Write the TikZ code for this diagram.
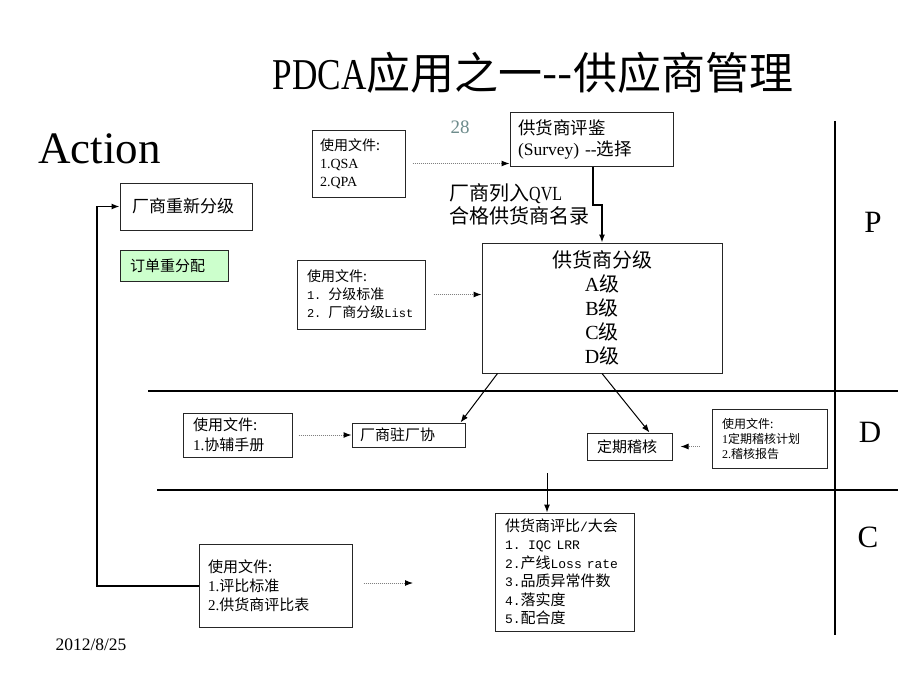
\documentclass[tikz,border=0pt]{standalone}
\usepackage{fontspec}
\setmainfont{Liberation Serif}
\setmonofont{Liberation Mono}
\newfontfamily\cjk{Noto Sans CJK SC}
\usetikzlibrary{arrows.meta}
\newcommand\fsz[2]{\fontsize{#1pt}{#2pt}\selectfont}
\newcommand\lat[1]{\textrm{#1}}
\newcommand\monotxt[2]{{\fontsize{#1pt}{18pt}\selectfont\ttfamily #2}}
\definecolor{greenfill}{RGB}{204,255,204}
\definecolor{teal28}{RGB}{110,140,140}
\begin{document}
\begin{tikzpicture}[x=1pt,y=-1pt,
  docbox/.style={draw=black!85, line width=1pt, rectangle, align=left, inner ysep=2pt, font=\cjk\fsz{14}{18}},
  arr/.style={draw=black, line width=1pt, -{Latex[length=8pt,width=6pt]}},
  dotarr/.style={draw=black!50, line width=1pt, densely dotted, -{Latex[length=8pt,width=6pt,black]}},
  rule/.style={draw=black, line width=2.5pt}
]
\useasboundingbox (0,0) rectangle (920,690);
\fill[white] (0,0) rectangle (920,690);

% texts
\node (title) at (533,73) {\cjk\fsz{44}{44}\scalebox{0.8}[1]{\textrm{PDCA}}应用之一-{}-供应商管理};
\node[font=\fsz{45}{45}, anchor=base west, inner sep=0pt] (action) at (38,163) {Action};
\node[font=\fsz{19}{19}, text=teal28] (pg) at (460,127) {28};
\node[font=\cjk\fsz{20}{23}, align=left, anchor=west, inner sep=0pt] (qvl) at (449,204.5) {厂商列入\scalebox{0.8}[1]{\textrm{QVL}}\\合格供货商名录};
\node[font=\fsz{31}{31}] (P) at (873,222) {P};
\node[font=\fsz{31}{31}] (D) at (870,432) {D};
\node[font=\fsz{31}{31}] (C) at (868,537) {C};
\node[font=\fsz{17.5}{18}] (date) at (91,645) {2012/8/25};

% rules
\coordinate (h1a) at (148,391); \coordinate (h1b) at (898,391);
\coordinate (h2a) at (157,490); \coordinate (h2b) at (898,490);
\coordinate (v1a) at (835,121); \coordinate (v1b) at (835,635);
\draw[rule] (h1a) -- (h1b);
\draw[rule] (h2a) -- (h2b);
\draw[rule] (v1a) -- (v1b);

% boxes
\node[docbox, minimum width=93pt, minimum height=67pt, text width=77pt, inner xsep=8pt] (qsa) at (358.5,163.5) {使用文件:\\\lat{1.QSA}\\\lat{2.QPA}};
\node[docbox, font=\cjk\fsz{17.5}{21}, minimum width=163pt, minimum height=53pt, text width=147pt, inner xsep=8pt] (survey) at (591.5,139.5) {供货商评鉴\\\lat{(Survey) -{}-}选择};
\node[docbox, align=center, font=\cjk\fsz{20}{24}, minimum width=240pt, minimum height=130pt, text width=220pt, inner xsep=10pt] (grading) at (602,308) {供货商分级\\\lat{A}级\\\lat{B}级\\\lat{C}级\\\lat{D}级};
\node[docbox, minimum width=128pt, minimum height=69pt, text width=108pt, inner xsep=10pt] (doc2) at (361,294.5) {使用文件:\\\monotxt{12}{1. }分级标准\\\monotxt{12}{2. }厂商分级\monotxt{12}{List}};
\node[docbox, font=\cjk\fsz{17}{20}, minimum width=132pt, minimum height=47pt, text width=108pt, inner xsep=12pt] (regrade) at (186,206.5) {厂商重新分级};
\node[docbox, fill=greenfill, font=\cjk\fsz{15}{18}, minimum width=108pt, minimum height=31pt, text width=88pt, inner xsep=10pt] (green) at (174,265.5) {订单重分配};
\node[docbox, font=\cjk\fsz{15}{20}, minimum width=109pt, minimum height=44pt, text width=89pt, inner xsep=10pt] (doc3) at (237.5,435) {使用文件:\\\lat{1.}协辅手册};
\node[docbox, font=\cjk\fsz{15}{18}, minimum width=113pt, minimum height=24pt, text width=97pt, inner xsep=8pt] (onsite) at (408.5,435) {厂商驻厂协};
\node[docbox, font=\cjk\fsz{15}{18}, minimum width=85pt, minimum height=27pt, text width=65pt, inner xsep=10pt] (audit) at (629.5,446.5) {定期稽核};
\node[docbox, font=\cjk\fsz{12}{15}, minimum width=115pt, minimum height=59pt, text width=95pt, inner xsep=10pt] (doc4) at (769.5,438.5) {使用文件:\\\lat{1}定期稽核计划\\\lat{2.}稽核报告};
\node[docbox, font=\cjk\fsz{15}{19}, minimum width=153pt, minimum height=83pt, text width=135pt, inner xsep=9pt] (doc5) at (275.5,585.5) {使用文件:\\\lat{1.}评比标准\\\lat{2.}供货商评比表};
\node[docbox, font=\cjk\fsz{15}{18.5}, minimum width=139pt, minimum height=118pt, text width=119pt, inner xsep=10pt] (meeting) at (564.5,572) {供货商评比\monotxt{13}{/}大会\\\monotxt{13}{1. IQC LRR}\\\monotxt{13}{2.}产线\monotxt{13}{Loss rate}\\\monotxt{13}{3.}品质异常件数\\\monotxt{13}{4.}落实度\\\monotxt{13}{5.}配合度};

% connectors
\coordinate (j1) at (593,205);
\draw[arr, line width=1.3pt] (survey.south -| j1) -- (j1) -| (grading.north);
\draw[dotarr] ([xshift=7pt]qsa.east) -- (qsa.east -| survey.west);
\draw[dotarr] ([xshift=8pt]doc2.east) -- (doc2.east -| grading.west);
\draw[arr] ([xshift=16pt]grading.south west) -- ([xshift=-5pt]onsite.north east);
\draw[arr] (grading.south) -- ([xshift=20pt]audit.north);
\draw[dotarr] ([xshift=6pt]doc3.east) -- (doc3.east -| onsite.west);
\draw[dotarr] ([shift={(-12,8)}]doc4.west) -- ([xshift=8pt]audit.east);
\coordinate (m0) at (547,473);
\draw[arr] (m0) -- (m0 |- meeting.north);
\coordinate (d5e) at (413,583);
\draw[dotarr] ([shift={(11,-2.5)}]doc5.east) -- (d5e);
\coordinate (fb) at (97,586);
\draw[arr, line width=1.3pt] (doc5.west |- fb) -- (fb) |- (regrade.west);
\end{tikzpicture}
\end{document}
